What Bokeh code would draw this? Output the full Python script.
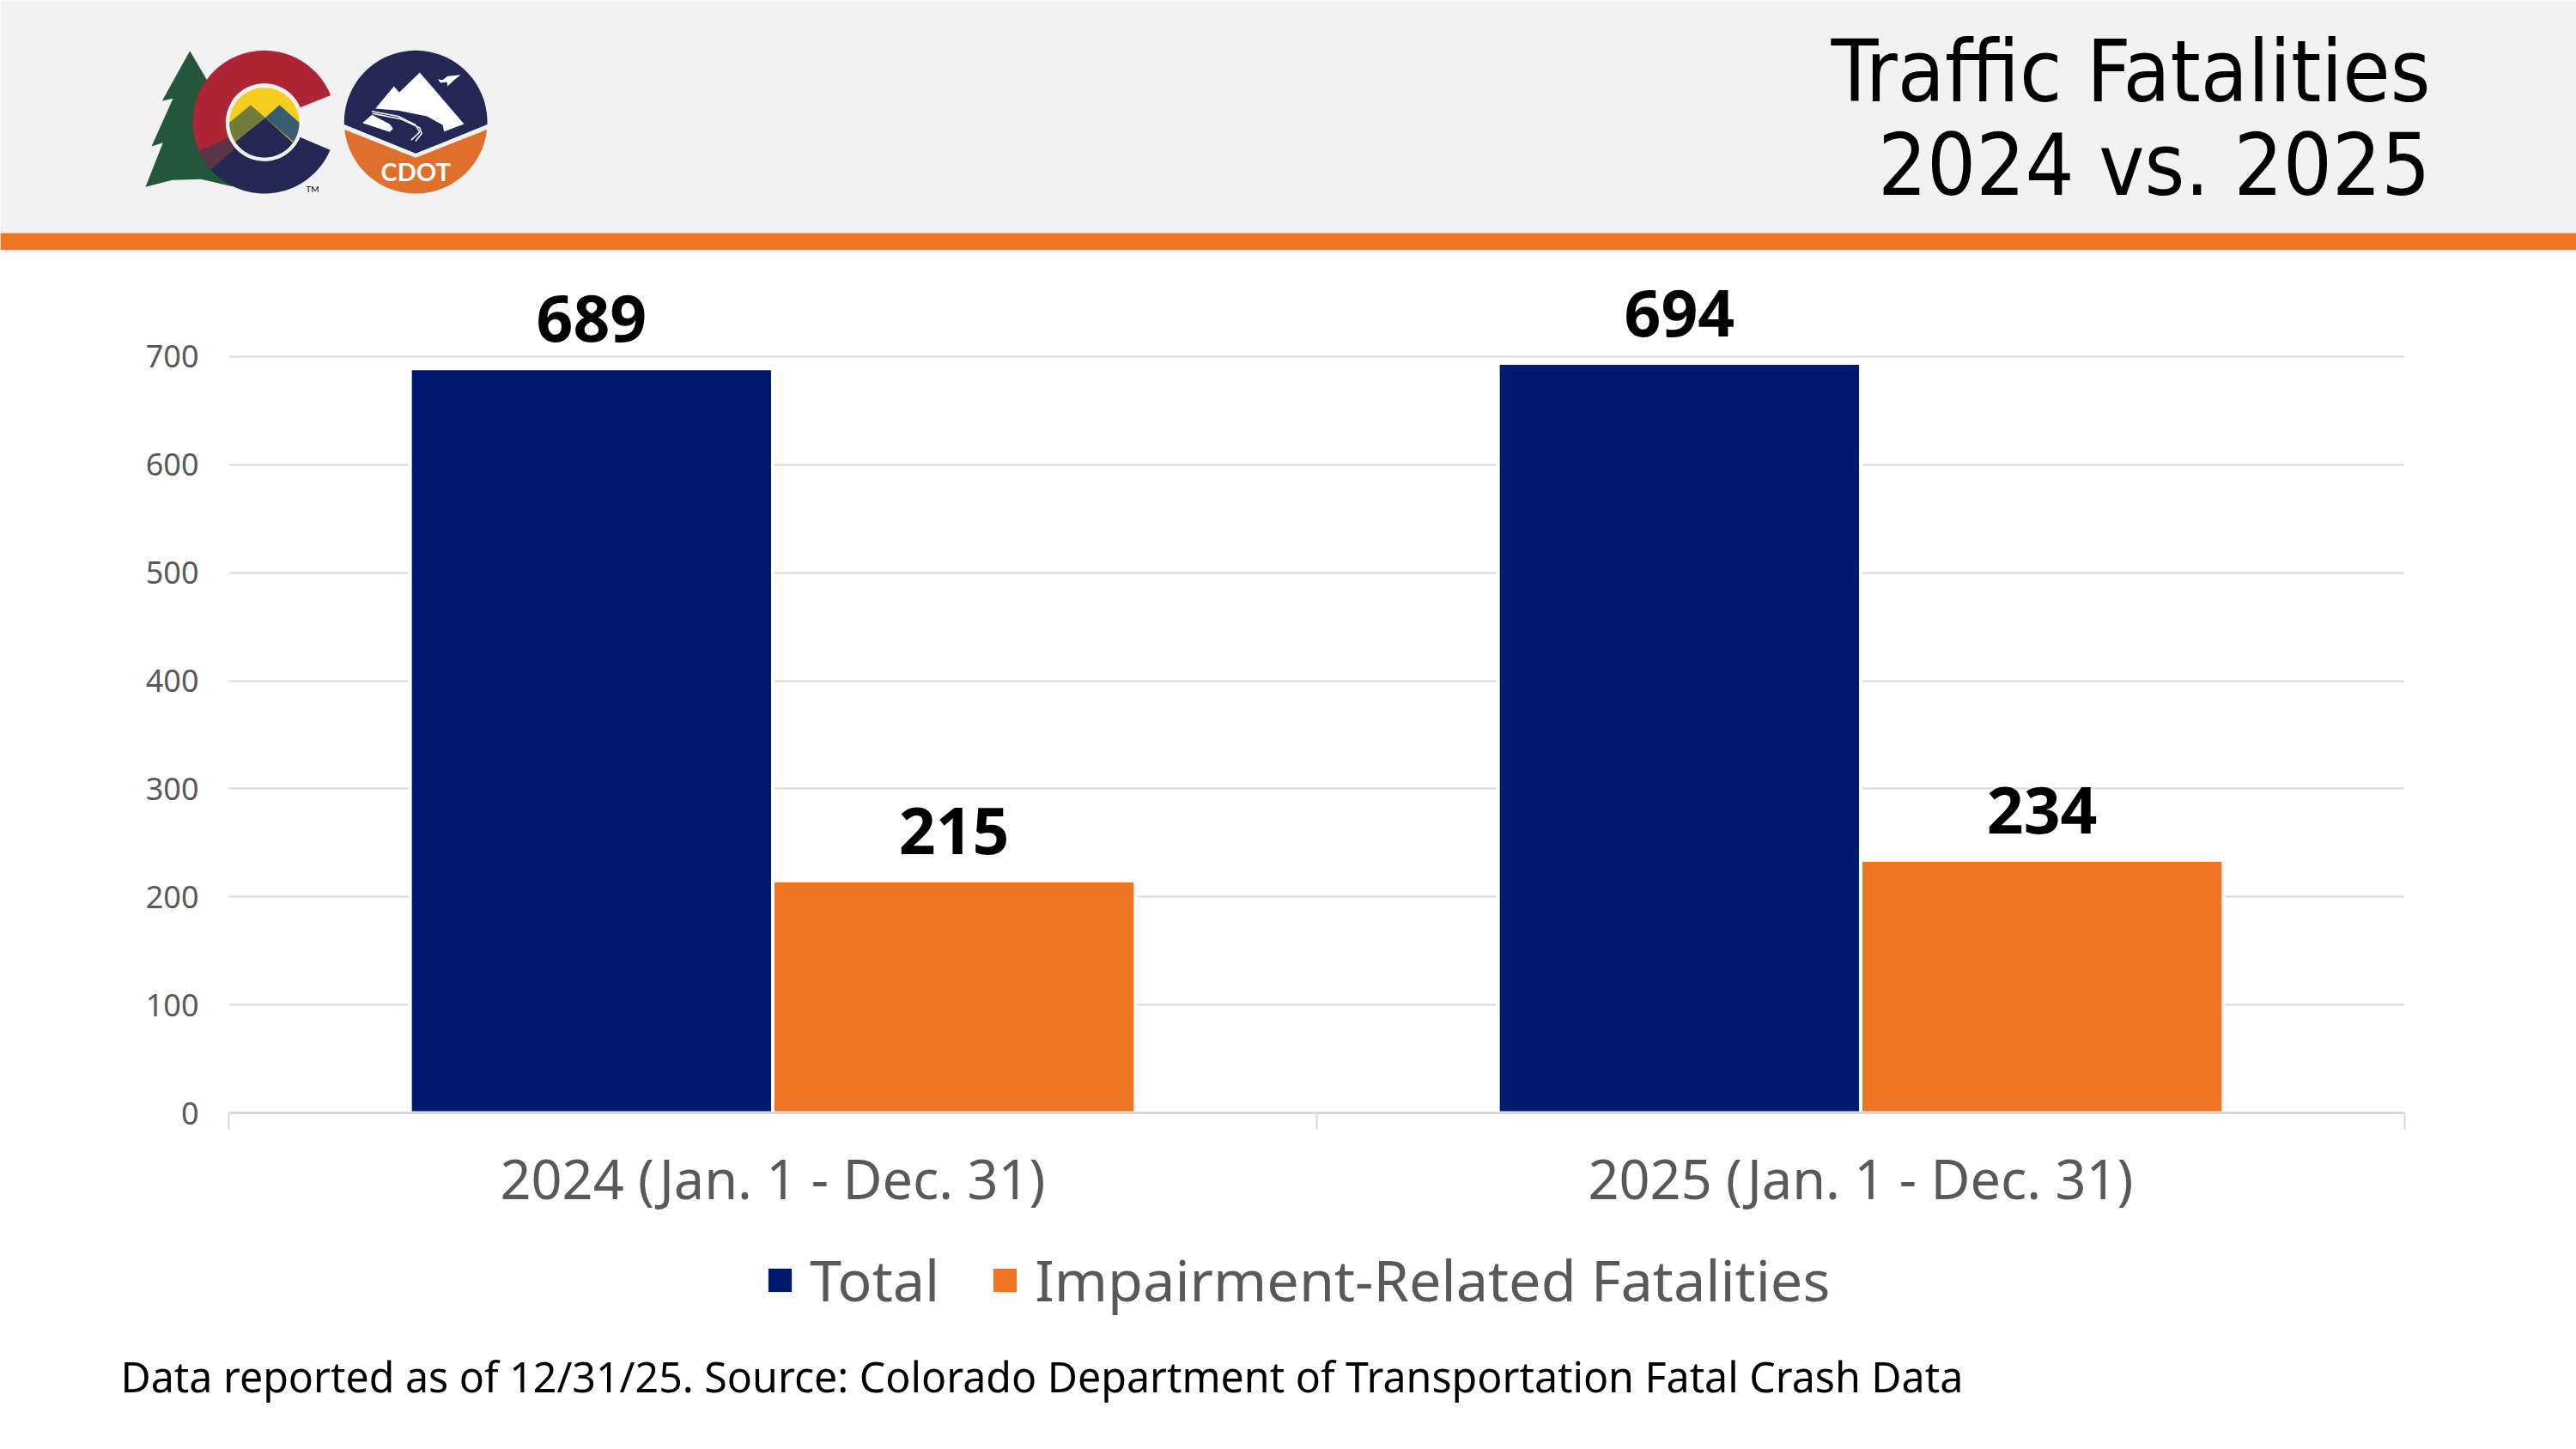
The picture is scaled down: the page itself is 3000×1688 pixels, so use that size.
import numpy as np
from bokeh.embed import file_html
from bokeh.resources import INLINE
from bokeh.plotting import figure
from bokeh.core.properties import value
from bokeh.models import (Range1d, FixedTicker, LinearAxis, Legend, LegendItem,
                          ColumnDataSource, Grid)

# ---- data ----
categories = ["2024 (Jan. 1 - Dec. 31)", "2025 (Jan. 1 - Dec. 31)"]
total = [689, 694]
impairment = [215, 234]
series_names = ["Total", "Impairment-Related Fatalities"]
y_ticks = [0, 100, 200, 300, 400, 500, 600, 700]
title_lines = ["Traffic Fatalities", "2024 vs. 2025"]
note = "Data reported as of 12/31/25. Source: Colorado Department of Transportation Fatal Crash Data"

FONT = "Noto Sans"
TITLE_FONT = "DejaVu Sans Condensed"
NAVY = "#001a70"
ORANGE = "#f07522"
GREY = "#595959"
RULE = "#d9d9d9"

# ---- header (pixel space) ----
head = figure(width=3000, height=291, output_backend="svg", toolbar_location=None,
              x_range=Range1d(0, 3000), y_range=Range1d(291, 0),
              min_border=0, outline_line_color=None, background_fill_color="#f2f2f2",
              border_fill_color="#f2f2f2",
              styles={"position": "absolute", "left": "0px", "top": "0px"})
head.axis.visible = False
head.grid.visible = False
head.quad(left=0, right=3000, top=271, bottom=291, fill_color=ORANGE, line_color=None)

def zx(v): return 100 + np.asarray(v, float) / 3
def zy(v): return 20 + np.asarray(v, float) / 3

def poly(pts, color):
    a = np.array(pts, float)
    head.patch(zx(a[:, 0]), zy(a[:, 1]), fill_color=color, line_color=None)

def arc(cx, cy, r, a0, a1, n=80):
    t = np.radians(np.linspace(a0, a1, n))
    return np.column_stack([cx + r * np.cos(t), cy - r * np.sin(t)])

L_RED, L_NAVY, L_GREEN = "#ae2535", "#222754", "#24563a"
L_YEL, L_OLV, L_BLU, L_MAR = "#f7cd20", "#737c3d", "#385c70", "#5b344b"
L_ORG, L_BG = "#e16f2c", "#f2f2f2"

# state logo
poly([(362, 116), (265, 291), (303, 283), (228, 450), (268, 437), (207, 592),
      (300, 568), (400, 565), (510, 590), (622, 400), (420, 215)], L_GREEN)
cx, cy, ro = 622, 365, 250
ri = 135
poly(np.vstack([arc(cx, cy, ro, 22, 204), arc(cx, cy, ri, 204, 22)]), L_RED)
poly(np.vstack([arc(cx, cy, ro, 204, 222), arc(cx, cy, ri, 222, 204)]), L_MAR)
poly(np.vstack([arc(cx, cy, ro, 222, 337), arc(cx, cy, ri, 337, 222)]), L_NAVY)
poly(arc(cx, 367, 135, 0, 360), L_BG)
poly(arc(cx, 367, 122, 0, 360), L_YEL)
poly(np.vstack([[(574, 305), (625, 350), (525, 435)], arc(cx, 367, 122, 214, 180)]), L_OLV)
poly(np.vstack([[(675, 305), (625, 350), (722, 433)], arc(cx, 367, 122, 325, 360)]), L_BLU)
poly(np.vstack([[(625, 350)], arc(cx, 367, 122, 325, 214)]), L_NAVY)

# CDOT logo
cx2, cy2, r2 = 1151, 365, 250
poly(np.vstack([arc(cx2, cy2, r2, -2, 182), [(1151, 475)]]), L_NAVY)
poly(np.vstack([arc(cx2, cy2, r2, 354, 186), [(1151, 490)]]), L_ORG)
poly([(1165, 192), (1320, 372), (1250, 398), (1245, 375), (1190, 345), (1090, 325),
      (1010, 318), (1075, 240), (1093, 262)], "white")
poly([(998, 340), (965, 368), (1060, 400), (1072, 388), (1060, 372)], "white")
poly([(1228, 215), (1245, 218), (1262, 205), (1308, 200), (1285, 218), (1262, 240),
      (1260, 225), (1238, 228)], "white")
head.line(zx([998, 1090, 1150, 1165, 1135]), zy([328, 345, 375, 400, 428]), line_color="white", line_width=1.5)
head.line(zx([1000, 1100, 1165, 1172, 1150]), zy([335, 355, 385, 405, 432]), line_color="white", line_width=1.5)
head.text([float(zx(1151))], [float(zy(537))], text=["CDOT"], text_font=value("Lato"), text_font_style="bold",
          text_font_size="29px", text_color="white", text_align="center", text_baseline="middle")
head.text([float(zx(790))], [float(zy(598))], text=["TM"], text_font=value("Lato"),
          text_font_size="10px", text_color="black", text_align="center", text_baseline="middle")

# title (text glyphs are anchored on their vertical middle here)
head.text([2830, 2830], [83, 192], text=title_lines, text_font=value(TITLE_FONT),
          text_font_size="100px", text_color="black", text_align="right", text_baseline="middle")

# ---- chart ----
p = figure(width=3000, height=1155, output_backend="svg", toolbar_location=None,
           x_range=Range1d(0, 2), y_range=Range1d(0, 791.3),
           x_axis_type=None, y_axis_type=None,
           min_border_left=266, min_border_right=200, min_border_top=9, min_border_bottom=150,
           outline_line_color=None,
           styles={"position": "absolute", "left": "0px", "top": "291px"})

xs = np.arange(len(categories)) + 0.5
off = 1 / 6
label_gap = 58 / (881 / 700)
src = ColumnDataSource(dict(x1=xs - off, x2=xs + off, total=total, impairment=impairment,
                            ly1=np.array(total) + label_gap, ly2=np.array(impairment) + label_gap,
                            lt=[str(v) for v in total], li=[str(v) for v in impairment]))
r1 = p.vbar(x="x1", top="total", width=1 / 3, bottom=0, source=src, fill_color=NAVY, line_color="white", line_width=4)
r2 = p.vbar(x="x2", top="impairment", width=1 / 3, bottom=0, source=src, fill_color=ORANGE, line_color="white", line_width=4)

for xk, yk, tk in (("x1", "ly1", "lt"), ("x2", "ly2", "li")):
    p.text(x=xk, y=yk, text=tk, source=src, text_font=value(FONT), text_font_style="bold",
           text_font_size="75px", text_color="black", text_align="center", text_baseline="middle")

yax = LinearAxis(ticker=FixedTicker(ticks=y_ticks))
yax.axis_line_color = None
yax.major_tick_line_color = None
yax.minor_tick_line_color = None
yax.major_label_text_font = FONT
yax.major_label_text_font_size = "36px"
yax.major_label_text_color = GREY
yax.major_label_standoff = 29
p.add_layout(yax, "left")

xax = LinearAxis(ticker=FixedTicker(ticks=list(xs), minor_ticks=[0, 1, 2]))
xax.major_label_overrides = {float(x): c for x, c in zip(xs, categories)}
xax.axis_line_color = RULE
xax.axis_line_width = 3
xax.major_tick_line_color = None
xax.minor_tick_line_color = RULE
xax.minor_tick_line_width = 2
xax.minor_tick_in = 0
xax.minor_tick_out = 20
xax.major_label_text_font = FONT
xax.major_label_text_font_size = "63px"
xax.major_label_text_color = GREY
xax.major_label_standoff = 13
p.add_layout(xax, "below")

p.xgrid.visible = False
p.add_layout(Grid(dimension=1, ticker=FixedTicker(ticks=y_ticks[1:]), grid_line_color=RULE, grid_line_width=2))

# ---- footer: legend and source note (pixel space) ----
foot = figure(width=3000, height=268, output_backend="svg", toolbar_location=None,
              x_range=Range1d(0, 3000), y_range=Range1d(1688, 1420),
              min_border=0, outline_line_color=None, background_fill_alpha=0, border_fill_alpha=0,
              styles={"position": "absolute", "left": "0px", "top": "1420px"})
foot.axis.visible = False
foot.grid.visible = False
# off-canvas keys: they only lend their colours to the legend swatches
k1 = foot.vbar(x=[-5000], top=[9000], bottom=[9010], width=1, fill_color=NAVY, line_color=None)
k2 = foot.vbar(x=[-5000], top=[9000], bottom=[9010], width=1, fill_color=ORANGE, line_color=None)
legend = Legend(items=[LegendItem(label=series_names[0], renderers=[k1]),
                       LegendItem(label=series_names[1], renderers=[k2])],
                orientation="horizontal", location=(891, 152),
                glyph_width=34, glyph_height=34, label_standoff=18, spacing=59,
                padding=0, margin=0, border_line_color=None, background_fill_color=None,
                label_text_font=FONT, label_text_font_size="66.6px", label_text_color=GREY)
foot.add_layout(legend, "center")
foot.text([140], [1602], text=[note], text_font=value(FONT), text_font_size="48.3px",
          text_color="black", text_align="left", text_baseline="middle")

open("out.html", "w").write(file_html([head, p, foot], INLINE))
